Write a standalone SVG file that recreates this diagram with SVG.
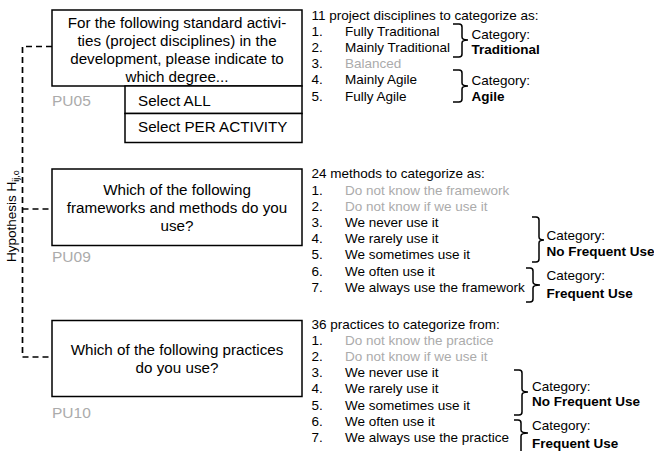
<svg xmlns="http://www.w3.org/2000/svg" width="654" height="451" viewBox="0 0 654 451">
<style>
text{font-family:"Liberation Sans",Arial,sans-serif;fill:#000}
.q{font-size:15.2px;text-anchor:middle}
.s{font-size:15.2px}
.pu{font-size:15.5px;fill:#ababab}
.t{font-size:13.5px}
.g{fill:#ababab}
.b{font-weight:bold}
.box{fill:#fff;stroke:#000;stroke-width:1.5}
.br{fill:none;stroke:#000;stroke-width:1.5}
.conn{fill:none;stroke:#000;stroke-width:1.7;stroke-dasharray:6 4}
</style>
<rect width="654" height="451" fill="#fff"/>
<g id="connectors">
<path class="conn" d="M52,46.5 H22.5 V357 H52"/>
<path class="conn" d="M22.5,209 H52"/>
</g>
<g id="hypothesis">
<text class="t" transform="translate(15.5,262) rotate(-90)">Hypothesis H<tspan font-size="9" dy="3">ij,o</tspan></text>
</g>
<g id="PU05">
<rect class="box" x="52" y="10" width="250" height="76"/>
<text class="q" x="177" y="28.3">For the following standard activi-</text>
<text class="q" x="177" y="46.1">ties (project disciplines) in the</text>
<text class="q" x="177" y="63.9">development, please indicate to</text>
<text class="q" x="177" y="81.7">which degree...</text>
<text class="pu" x="52" y="106">PU05</text>
</g>
<g id="select-all">
<rect class="box" x="125" y="86" width="177" height="27.5"/>
<text class="s" x="138" y="106">Select ALL</text>
</g>
<g id="select-per-activity">
<rect class="box" x="125" y="113.5" width="177" height="29"/>
<text class="s" x="138" y="132">Select PER ACTIVITY</text>
</g>
<g id="PU09">
<rect class="box" x="52" y="169" width="250" height="76.5"/>
<text class="q" x="177" y="195">Which of the following</text>
<text class="q" x="177" y="212.8">frameworks and methods do you</text>
<text class="q" x="177" y="230.6">use?</text>
<text class="pu" x="52" y="262">PU09</text>
</g>
<g id="PU10">
<rect class="box" x="52" y="320.5" width="250" height="76"/>
<text class="q" x="177" y="355.2">Which of the following practices</text>
<text class="q" x="177" y="373">do you use?</text>
<text class="pu" x="52" y="418">PU10</text>
</g>
<g id="list-disciplines" class="t">
<text class="t" x="311.5" y="19.5">11 project disciplines to categorize as:</text>
<text class="t" x="311.5" y="35.7">1.</text><text class="t" x="345" y="35.7">Fully Traditional</text>
<text class="t" x="311.5" y="51.9">2.</text><text class="t" x="345" y="51.9">Mainly Traditional</text>
<text class="t" x="311.5" y="68.1">3.</text><text class="t g" x="345" y="68.1">Balanced</text>
<text class="t" x="311.5" y="84.3">4.</text><text class="t" x="345" y="84.3">Mainly Agile</text>
<text class="t" x="311.5" y="100.5">5.</text><text class="t" x="345" y="100.5">Fully Agile</text>
<path class="br" d="M453,24 H459 Q462,24 462,27 V37 Q462,40 468,40 Q462,40 462,43 V54 Q462,57 459,57 H453"/>
<path class="br" d="M453,70 H459 Q462,70 462,73 V83 Q462,86 468,86 Q462,86 462,89 V99 Q462,102 459,102 H453"/>
<text class="t" x="471.5" y="39">Category:</text>
<text class="t b" x="471.5" y="54">Traditional</text>
<text class="t" x="471.5" y="85">Category:</text>
<text class="t b" x="471.5" y="100.5">Agile</text>
</g>
<g id="list-methods">
<text class="t" x="311.5" y="178.3">24 methods to categorize as:</text>
<text class="t" x="311.5" y="194.5">1.</text><text class="t g" x="345" y="194.5">Do not know the framework</text>
<text class="t" x="311.5" y="210.7">2.</text><text class="t g" x="345" y="210.7">Do not know if we use it</text>
<text class="t" x="311.5" y="226.9">3.</text><text class="t" x="345" y="226.9">We never use it</text>
<text class="t" x="311.5" y="243.1">4.</text><text class="t" x="345" y="243.1">We rarely use it</text>
<text class="t" x="311.5" y="259.3">5.</text><text class="t" x="345" y="259.3">We sometimes use it</text>
<text class="t" x="311.5" y="275.5">6.</text><text class="t" x="345" y="275.5">We often use it</text>
<text class="t" x="311.5" y="291.7">7.</text><text class="t" x="345" y="291.7">We always use the framework</text>
<path class="br" d="M532,217 H536 Q539,217 539,220 V237 Q539,240 544,240 Q539,240 539,243 V259 Q539,262 536,262 H532"/>
<path class="br" d="M526,268 H530 Q533,268 533,271 V282 Q533,285 540,285 Q533,285 533,288 V299 Q533,302 530,302 H526"/>
<text class="t" x="546.5" y="240">Category:</text>
<text class="t b" x="546.5" y="255.5">No Frequent Use</text>
<text class="t" x="546.5" y="280">Category:</text>
<text class="t b" x="546.5" y="298">Frequent Use</text>
</g>
<g id="list-practices">
<text class="t" x="311.5" y="329">36 practices to categorize from:</text>
<text class="t" x="311.5" y="345.1">1.</text><text class="t g" x="345" y="345.1">Do not know the practice</text>
<text class="t" x="311.5" y="361.2">2.</text><text class="t g" x="345" y="361.2">Do not know if we use it</text>
<text class="t" x="311.5" y="377.3">3.</text><text class="t" x="345" y="377.3">We never use it</text>
<text class="t" x="311.5" y="393.4">4.</text><text class="t" x="345" y="393.4">We rarely use it</text>
<text class="t" x="311.5" y="409.5">5.</text><text class="t" x="345" y="409.5">We sometimes use it</text>
<text class="t" x="311.5" y="425.6">6.</text><text class="t" x="345" y="425.6">We often use it</text>
<text class="t" x="311.5" y="441.7">7.</text><text class="t" x="345" y="441.7">We always use the practice</text>
<path class="br" d="M514,370 H519 Q522,370 522,373 V389 Q522,392 528,392 Q522,392 522,395 V412 Q522,415 519,415 H514"/>
<path class="br" d="M514,420 H518 Q521,420 521,423 V430 Q521,433 528,433 Q521,433 521,436 V459 Q521,462 518,462 H514"/>
<text class="t" x="532" y="390.5">Category:</text>
<text class="t b" x="532" y="406">No Frequent Use</text>
<text class="t" x="532" y="430">Category:</text>
<text class="t b" x="532" y="447.5">Frequent Use</text>
</g>
</svg>
